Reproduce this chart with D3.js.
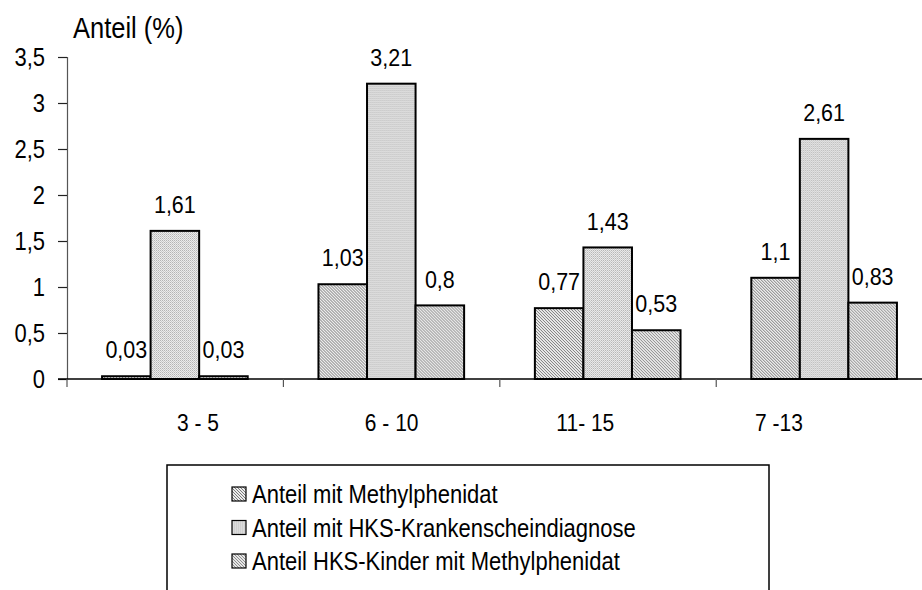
<!DOCTYPE html>
<html><head><meta charset="utf-8">
<script src="https://cdn.jsdelivr.net/npm/d3@7/dist/d3.min.js"></script>
<style>
body{margin:0;background:#fff;}
text{font-family:"Liberation Sans",Arial,sans-serif;fill:#000;transform-box:fill-box;transform-origin:center;transform:scaleY(1.15);}
</style></head>
<body><svg id="c" width="922" height="590"></svg>
<script>
const categories = ["3 - 5", "6 - 10", "11- 15", "7 -13"];
const seriesNames = ["Anteil mit Methylphenidat", "Anteil mit HKS-Krankenscheindiagnose", "Anteil HKS-Kinder mit Methylphenidat"];
const methylphenidat = [0.03, 1.03, 0.77, 1.1];
const hksDiagnose = [1.61, 3.21, 1.43, 2.61];
const hksKinderMethyl = [0.03, 0.8, 0.53, 0.83];
const yTicks = [0, 0.5, 1, 1.5, 2, 2.5, 3, 3.5];
const yTitle = "Anteil (%)";

const series = [methylphenidat, hksDiagnose, hksKinderMethyl];
const fmt = v => String(v).replace(".", ",");

const svg = d3.select("#c");
const defs = svg.append("defs");

// patterns
const p1 = defs.append("pattern").attr("id","pat0").attr("patternUnits","userSpaceOnUse").attr("width",3).attr("height",3);
p1.append("rect").attr("width",3).attr("height",3).attr("fill","#ececec");
p1.append("path").attr("d","M0,0 L3,3 M-1,2 L1,4 M2,-1 L4,1").attr("stroke","#7a7a7a").attr("stroke-width",1);

const p2 = defs.append("pattern").attr("id","pat1").attr("patternUnits","userSpaceOnUse").attr("width",2).attr("height",2);
p2.append("rect").attr("width",2).attr("height",2).attr("fill","#eeeeee");
p2.append("rect").attr("width",1).attr("height",1).attr("fill","#b0b0b0");
p2.append("rect").attr("x",1).attr("y",1).attr("width",1).attr("height",1).attr("fill","#c8c8c8");

const p3 = defs.append("pattern").attr("id","pat2").attr("patternUnits","userSpaceOnUse").attr("width",3).attr("height",3);
p3.append("rect").attr("width",3).attr("height",3).attr("fill","#e6e6e6");
p3.append("path").attr("d","M0,0 L3,3 M-1,2 L1,4 M2,-1 L4,1").attr("stroke","#858585").attr("stroke-width",0.9);

const fills = ["url(#pat0)","url(#pat1)","url(#pat2)"];

const x0 = d3.scaleBand().domain(categories).range([67, 932]).paddingInner(0.327).paddingOuter(0.162);
const x1 = d3.scaleBand().domain(d3.range(series.length)).range([0, x0.bandwidth()]);
const y = d3.scaleLinear().domain([0, 3.5]).range([379, 57]);
const xLab = d3.scalePoint().domain(categories).range([198, 779]);

// y axis
const yAxis = d3.axisLeft(y).tickValues(yTicks).tickSize(9).tickFormat(fmt);
const gy = svg.append("g").attr("transform","translate(67,0)").call(yAxis);
gy.select(".domain").attr("stroke","#555").attr("stroke-width",1.2);
gy.selectAll(".tick line").attr("stroke","#222").attr("stroke-width",1.2);
gy.selectAll(".tick text").attr("x",-22).attr("font-size","22px").attr("font-family","Liberation Sans, Arial, sans-serif").attr("fill","#000");

// x axis line + boundary ticks
svg.append("line").attr("x1",58).attr("x2",922).attr("y1",y(0)).attr("y2",y(0)).attr("stroke","#000").attr("stroke-width",1.3);
const bounds = categories.map(c => x0(c) - x0.step()*x0.paddingOuter());
svg.selectAll(".xt").data(bounds).join("line").attr("class","xt")
  .attr("x1",d=>d).attr("x2",d=>d).attr("y1",y(0)).attr("y2",y(0)+8).attr("stroke","#555").attr("stroke-width",1.2);
svg.selectAll(".xl").data(categories).join("text").attr("class","xl")
  .attr("x",d=>xLab(d)).attr("y",430).attr("text-anchor","middle").attr("font-size","21px").text(d=>d);

// bars
const groups = svg.selectAll(".grp").data(categories).join("g").attr("class","grp")
  .attr("transform",d=>`translate(${x0(d)},0)`);
groups.selectAll("rect").data((c,i)=>series.map((s,k)=>({k, v:s[i]}))).join("rect")
  .attr("x",d=>x1(d.k)).attr("width",x1.bandwidth())
  .attr("y",d=>y(d.v)).attr("height",d=>y(0)-y(d.v))
  .attr("fill",d=>fills[d.k]).attr("stroke","#000").attr("stroke-width",2);
groups.selectAll("text").data((c,i)=>series.map((s,k)=>({k, v:s[i]}))).join("text")
  .attr("x",d=>x1(d.k)+x1.bandwidth()/2).attr("y",d=>y(d.v)-19)
  .attr("text-anchor","middle").attr("font-size","21.5px").text(d=>fmt(d.v));

// y title
svg.append("text").attr("x",73).attr("y",37).attr("font-size","25.5px").text(yTitle);

// legend
svg.append("rect").attr("x",167).attr("y",465).attr("width",602).attr("height",140)
  .attr("fill","#fff").attr("stroke","#000").attr("stroke-width",1.5);
const leg = svg.selectAll(".lg").data(seriesNames).join("g").attr("class","lg")
  .attr("transform",(d,i)=>`translate(232,${494 + i*33.5})`);
leg.append("rect").attr("x",0).attr("y",-7).attr("width",14).attr("height",14)
  .attr("fill",(d,i)=>fills[i]).attr("stroke","#000").attr("stroke-width",1.2);
leg.append("text").attr("x",20).attr("y",8).attr("font-size","22px").text(d=>d);
</script></body></html>
